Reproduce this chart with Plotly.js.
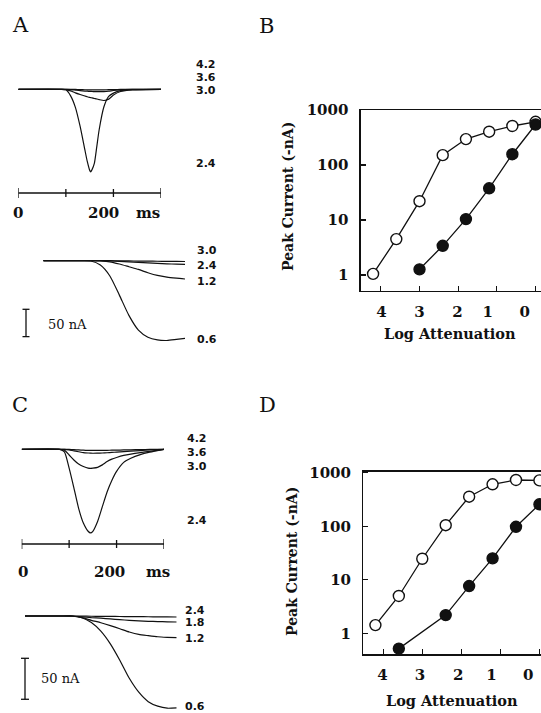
<!DOCTYPE html>
<html><head><meta charset="utf-8">
<script src="https://cdn.plot.ly/plotly-3.0.1.min.js"></script>
<style>html,body{margin:0;padding:0;background:#fff;}#fig{width:541px;height:713px;}</style>
</head><body><div id="fig"></div>
<script>
// ---------- DATA ----------
// Panel A, upper records (time ms, current nA) – light steps 4.2, 3.6, 3.0, 2.4
const tA1 = [0, 90, 100, 110, 120, 130, 140, 145, 150, 152, 155, 160, 165, 170, 180, 190, 200, 215, 240, 300];
const A1_42 = [0, 0, 0, 0, -0.3, -0.6, -0.8, -0.9, -1, -1, -1, -1, -1, -1, -0.9, -0.7, -0.5, -0.3, -0.1, 0];
const A1_36 = [0, 0, 0, -0.5, -1.5, -2.5, -3.2, -3.5, -3.8, -3.9, -4, -4.2, -4.3, -4.3, -4.2, -3.5, -2.2, -1, -0.3, 0];
const A1_30 = [0, 0, -0.5, -3, -6.5, -9.5, -12.3, -13.6, -14.8, -15.2, -15.8, -16.8, -17.7, -18.8, -20.5, -18, -10.4, -4, -1, 0];
const A1_24 = [0, 0, -1, -12, -33, -68, -111, -132, -148, -151, -147, -135, -105, -74, -32, -13, -7, -2.4, -0.6, 0];
const labelsA1 = ["4.2", "3.6", "3.0", "2.4"];
// Panel A, lower records – 3.0, 2.4, 1.2, 0.6
const tA2 = [0, 80, 100, 120, 140, 160, 180, 200, 220, 240, 260, 280, 298];
const A2_30 = [0, 0, 0, 0, 0, -0.2, -0.4, -0.6, -0.8, -1, -1.2, -1.4, -1.5];
const A2_24 = [0, 0, 0, 0, -0.5, -1.2, -2, -3, -4, -5, -5.8, -6.3, -6.7];
const A2_12 = [0, 0, 0, -0.5, -2, -6, -11, -16, -22, -27, -30, -32, -33.5];
const A2_06 = [0, 0, -0.5, -8, -28, -63, -100, -127, -140, -145, -146, -144, -142];
const labelsA2 = ["3.0", "2.4", "1.2", "0.6"];
// Panel B: peak current vs log attenuation
const attenB_open = [4.2, 3.6, 3.0, 2.4, 1.8, 1.2, 0.6, 0.0];
const peakB_open = [1.05, 4.5, 22, 151, 296, 403, 512, 610];
const attenB_filled = [3.0, 2.4, 1.8, 1.2, 0.6, 0.0];
const peakB_filled = [1.27, 3.4, 10.4, 37.7, 157, 545];
// Panel C, upper records
const tC1 = [0, 80, 90, 100, 110, 120, 130, 140, 145, 150, 160, 170, 180, 190, 200, 215, 230, 250, 270, 300];
const C1_42 = [0, 0, 0, -0.2, -0.5, -0.8, -1.1, -1.3, -1.4, -1.4, -1.4, -1.3, -1.2, -1.1, -1, -0.8, -0.6, -0.4, -0.2, 0];
const C1_36 = [0, 0, 0, -0.8, -2, -3, -4, -4.5, -4.7, -4.8, -4.7, -4.5, -4.2, -3.8, -3.4, -2.8, -2.2, -1.5, -0.8, 0];
const C1_30 = [0, 0, -1, -7, -13, -18, -21, -23, -23.2, -23, -22, -19, -15, -12, -10, -7.5, -5.8, -4, -2.5, 0];
const C1_24 = [0, 0, -3, -23, -47, -72, -90, -100, -102, -100, -88, -70, -52, -38, -27, -16, -11, -6.5, -3.5, 0];
const labelsC1 = ["4.2", "3.6", "3.0", "2.4"];
// Panel C, lower records
const tC2 = [0, 80, 100, 120, 140, 160, 180, 200, 220, 240, 260, 280, 300, 320];
const C2_24 = [0, 0, 0, -0.1, -0.3, -0.4, -0.5, -0.6, -0.7, -0.8, -0.9, -1, -1.1, -1.2];
const C2_18 = [0, 0, 0, -1, -2, -2.7, -3.5, -4.5, -5.3, -6, -6.5, -6.8, -7.1, -7.3];
const C2_12 = [0, 0, -0.3, -2, -5.3, -8.2, -11.7, -15.5, -19.5, -22.5, -24, -25.3, -26, -26.5];
const C2_06 = [0, 0, 0, -2.2, -8, -18.5, -34, -54, -76, -93, -104.5, -110, -112.5, -112];
const labelsC2 = ["2.4", "1.8", "1.2", "0.6"];
// Panel D
const attenD_open = [4.2, 3.6, 3.0, 2.4, 1.8, 1.2, 0.6, 0.0];
const peakD_open = [1.43, 5.0, 24.8, 105, 357, 610, 733, 720];
const attenD_filled = [3.6, 2.4, 1.8, 1.2, 0.6, 0.0];
const peakD_filled = [0.52, 2.2, 7.66, 25.2, 98, 258];
// Axis ticks / scale bars
const logTickVals = [1, 10, 100, 1000];
const logTickText = ["1", "10", "100", "1000"];
const attenTickVals = [4, 3, 2, 1, 0];
const attenTickText = ["4", "3", "2", "1", "0"];
const timeBarTicks = [0, 100, 200, 300];   // ms
const currentBar = 50;                      // nA

// ---------- LAYOUT HELPERS ----------
const W = 541, H = 713;
const xp = p => p / W, yp = p => 1 - p / H;
const INK = "#111";
const SERIF = "DejaVu Serif, serif";
const SANS = "DejaVu Sans, sans-serif";

// pixel boxes of the record panels
const boxes = {
  A1: {x0: 18.3, x1: 161, t0: 0, t1: 300, base: 89.3, k: 1.83, y0: 45, y1: 205},
  A2: {x0: 43.3, x1: 185, t0: 0, t1: 298, base: 260.7, k: 1.83, y0: 235, y1: 360},
  C1: {x0: 21.7, x1: 164, t0: 0, t1: 300, base: 449.3, k: 1.22, y0: 420, y1: 560},
  C2: {x0: 25, x1: 176.7, t0: 0, t1: 320, base: 616, k: 1.22, y0: 590, y1: 713}
};
const nAat = (b, py) => (b.base - py) * b.k;

function recAxes(b) {
  return [
    {domain: [xp(b.x0), xp(b.x1)], range: [b.t0, b.t1], visible: false, fixedrange: true},
    {domain: [yp(b.y1), yp(b.y0)], range: [nAat(b, b.y1), nAat(b, b.y0)], visible: false, fixedrange: true}
  ];
}

const traces = [];
function rec(t, y, xa, ya) {
  traces.push({x: t, y: y, xaxis: xa, yaxis: ya, type: "scatter", mode: "lines",
    line: {color: INK, width: 1.2, shape: "spline", smoothing: 0.6}, hoverinfo: "skip", cliponaxis: false});
}
[A1_42, A1_36, A1_30, A1_24].forEach(v => rec(tA1, v, "x", "y"));
[A2_30, A2_24, A2_12, A2_06].forEach(v => rec(tA2, v, "x2", "y2"));
[C1_42, C1_36, C1_30, C1_24].forEach(v => rec(tC1, v, "x4", "y4"));
[C2_24, C2_18, C2_12, C2_06].forEach(v => rec(tC2, v, "x5", "y5"));

function dose(x, y, xa, ya, filled) {
  traces.push({x: x, y: y, xaxis: xa, yaxis: ya, type: "scatter", mode: "lines+markers",
    line: {color: INK, width: 1.3},
    marker: {symbol: "circle", size: 11, color: filled ? INK : "#fff", line: {color: INK, width: 1.4}},
    cliponaxis: false, hoverinfo: "x+y"});
}
dose(attenB_open, peakB_open, "x3", "y3", false);
dose(attenB_filled, peakB_filled, "x3", "y3", true);
dose(attenD_open, peakD_open, "x6", "y6", false);
dose(attenD_filled, peakD_filled, "x6", "y6", true);
// empty carriers for the label-only overlay axes
traces.push({x: [], y: [], xaxis: "x7", yaxis: "y3", type: "scatter", hoverinfo: "skip"});
traces.push({x: [], y: [], xaxis: "x8", yaxis: "y6", type: "scatter", hoverinfo: "skip"});

const TICKFONT = {family: SERIF, size: 15, color: INK, weight: "bold"};
function doseAxes(x0, y0, y1, xr, yr) {
  return [
    {domain: [xp(x0), 1], range: xr, tickmode: "array", tickvals: attenTickVals, showticklabels: false,
     ticks: "inside", ticklen: 5, tickwidth: 1.2, tickcolor: INK, showline: true, linecolor: INK, linewidth: 1.3,
     mirror: true, showgrid: false, zeroline: false, fixedrange: true},
    {domain: [yp(y1), yp(y0)], type: "log", range: yr, tickmode: "array", tickvals: logTickVals, ticktext: logTickText,
     ticks: "inside", ticklen: 5, tickwidth: 1.2, tickcolor: INK, showline: true, linecolor: INK, linewidth: 1.3,
     mirror: false, showgrid: false, zeroline: false, ticklabelstandoff: 8,
     tickfont: TICKFONT, fixedrange: true}
  ];
}
// tick-label axis (labels sit slightly left of the marks, as printed)
function labelAxis(over, anchor, xr, shift) {
  return {overlaying: over, anchor: anchor, side: "bottom", range: xr, tickmode: "array",
    tickvals: attenTickVals.map((v, i) => v + shift[i]), ticktext: attenTickText,
    ticks: "", showline: false, showgrid: false, zeroline: false, ticklabelstandoff: 10,
    ticklabeloverflow: "allow", tickfont: TICKFONT, fixedrange: true};
}

const [xa1, ya1] = recAxes(boxes.A1);
const [xa2, ya2] = recAxes(boxes.A2);
const [xa4, ya4] = recAxes(boxes.C1);
const [xa5, ya5] = recAxes(boxes.C2);
const rB = [4.52, -0.14], rD = [4.51, -0.04];
const [xa3, ya3] = doseAxes(360.7, 110, 291, rB, [-0.29, 3.0]);
const [xa6, ya6] = doseAxes(363.3, 471.7, 654.3, rD, [-0.39, 3.02]);
const xa7 = labelAxis("x3", "y3", rB, [-0.02, 0, 0.02, 0.24, 0.28]);
const xa8 = labelAxis("x6", "y6", rD, [0.02, 0.06, 0.08, 0.23, 0.29]);

// ---------- SHAPES (scale bars) ----------
const shapes = [];
const ln = (o) => Object.assign({type: "line", line: {color: INK, width: 1.3}}, o);
function timeBar(b, xa, ya, py) {
  const yb = nAat(b, py);
  shapes.push(ln({xref: xa, yref: ya, x0: timeBarTicks[0], x1: timeBarTicks[timeBarTicks.length - 1], y0: yb, y1: yb}));
  timeBarTicks.forEach((t, i) => {
    const end = (i === 0 || i === timeBarTicks.length - 1);
    const h = (end ? 5 : 4) * b.k;
    shapes.push(ln({xref: xa, yref: ya, x0: t, x1: t, y0: yb - h, y1: yb + h}));
  });
}
timeBar(boxes.A1, "x", "y", 193);
timeBar(boxes.C1, "x4", "y4", 544);
function currentScale(b, ya, px, pyTop, cap) {
  const yt = nAat(b, pyTop), yb = yt - currentBar;
  shapes.push(ln({xref: "paper", yref: ya, x0: xp(px), x1: xp(px), y0: yt, y1: yb}));
  shapes.push(ln({xref: "paper", yref: ya, x0: xp(px - cap), x1: xp(px + cap), y0: yt, y1: yt}));
  shapes.push(ln({xref: "paper", yref: ya, x0: xp(px - cap), x1: xp(px + cap), y0: yb, y1: yb}));
}
currentScale(boxes.A2, "y2", 26, 309.3, 3.5);
currentScale(boxes.C2, "y5", 25, 658.3, 4);

// ---------- ANNOTATIONS ----------
const ann = [];
const txt = (t, px, py, o) => ann.push(Object.assign({text: t, x: xp(px), y: yp(py), xref: "paper", yref: "paper",
  showarrow: false, xanchor: "center", yanchor: "middle", font: {family: SERIF, size: 15, color: INK, weight: "bold"}}, o || {}));
const LETTER = {family: SERIF, size: 21, color: INK};
txt("A", 20, 25, {font: LETTER});
txt("B", 266, 26, {font: LETTER});
txt("C", 20, 405, {font: LETTER});
txt("D", 267, 405, {font: LETTER});
// trace labels
const LABF = {family: SANS, size: 11, color: INK, weight: "bold"};
const lab = (arr, px, ys) => arr.forEach((s, i) => txt(s, px, ys[i], {xanchor: "left", font: LABF}));
lab(labelsA1, 194, [64, 77.5, 91, 163.5]);
lab(labelsA2, 195, [250.5, 265.5, 281, 339.5]);
lab(labelsC1, 185, [438, 452, 466, 520]);
lab(labelsC2, 183, [610, 622.5, 638.5, 706.5]);
// time bar labels
txt("0", 18.3, 213); txt("200", 103.3, 213); txt("ms", 148.3, 213);
txt("0", 23, 572); txt("200", 109, 572); txt("ms", 158, 572);
// current bar labels
const SMALL = {family: SERIF, size: 13, color: INK};
txt("50 nA", 46, 324, {xanchor: "left", font: SMALL});
txt("50 nA", 39, 678, {xanchor: "left", font: SMALL});
// axis titles of dose-response plots
const XT = {family: SERIF, size: 14.5, color: INK, weight: "bold"};
const YT = {family: SERIF, size: 14, color: INK, weight: "bold"};
txt("Log Attenuation", 450, 333, {font: XT});
txt("Peak Current (-nA)", 288, 197, {textangle: -90, font: YT});
txt("Log Attenuation", 452, 700, {font: XT});
txt("Peak Current (-nA)", 292, 562, {textangle: -90, font: YT});

const layout = {
  width: W, height: H, margin: {l: 0, r: 0, t: 0, b: 0},
  paper_bgcolor: "#fff", plot_bgcolor: "rgba(0,0,0,0)", showlegend: false,
  xaxis: Object.assign(xa1, {anchor: "y"}), yaxis: Object.assign(ya1, {anchor: "x"}),
  xaxis2: Object.assign(xa2, {anchor: "y2"}), yaxis2: Object.assign(ya2, {anchor: "x2"}),
  xaxis3: Object.assign(xa3, {anchor: "y3"}), yaxis3: Object.assign(ya3, {anchor: "x3"}),
  xaxis4: Object.assign(xa4, {anchor: "y4"}), yaxis4: Object.assign(ya4, {anchor: "x4"}),
  xaxis5: Object.assign(xa5, {anchor: "y5"}), yaxis5: Object.assign(ya5, {anchor: "x5"}),
  xaxis6: Object.assign(xa6, {anchor: "y6"}), yaxis6: Object.assign(ya6, {anchor: "x6"}),
  xaxis7: xa7, xaxis8: xa8,
  shapes: shapes, annotations: ann
};
Plotly.newPlot("fig", traces, layout, {staticPlot: true, displayModeBar: false});
</script></body></html>
